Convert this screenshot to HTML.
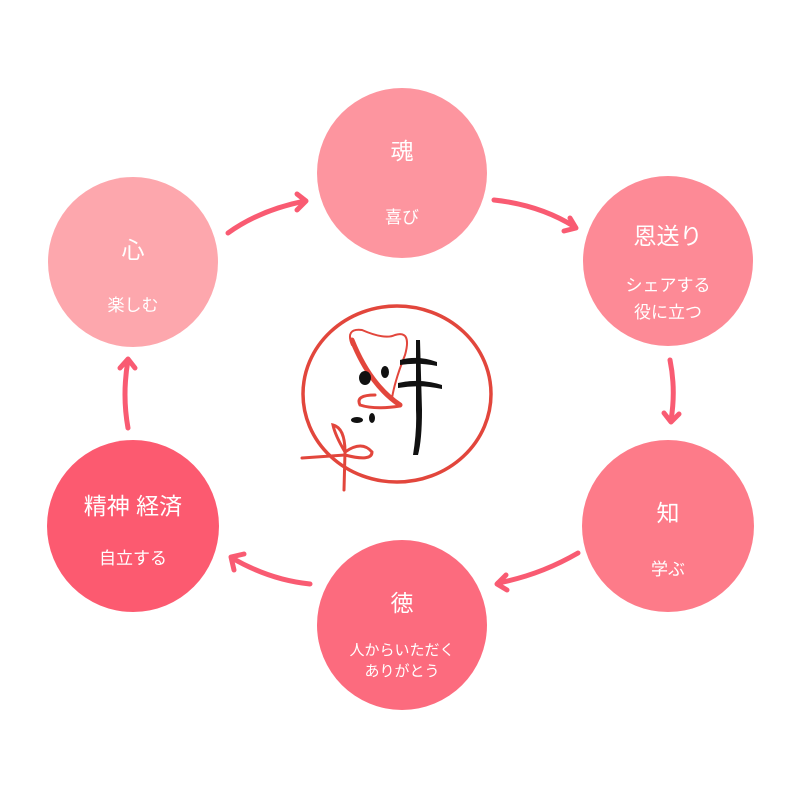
<!DOCTYPE html>
<html><head><meta charset="utf-8"><style>
body{margin:0;background:#fff;}
svg text{font-family:"Liberation Sans","Noto Sans CJK JP",sans-serif;fill:#fff;text-anchor:middle;}
</style></head><body>
<svg width="800" height="800" viewBox="0 0 800 800" xmlns="http://www.w3.org/2000/svg">
<rect width="800" height="800" fill="#fff"/>
<circle cx="133" cy="262" r="85" fill="#fda7ad"/>
<circle cx="402" cy="173" r="85" fill="#fd959f"/>
<circle cx="668" cy="261" r="85" fill="#fd8a96"/>
<circle cx="668" cy="526" r="86" fill="#fd7b89"/>
<circle cx="402" cy="625" r="85" fill="#fc6b7e"/>
<circle cx="133" cy="526" r="86" fill="#fc5a70"/>
<g font-size="23">
<text x="133" y="258">心</text>
<text x="402" y="159">魂</text>
<text x="668" y="244">恩送り</text>
<text x="668" y="521">知</text>
<text x="402" y="611">徳</text>
<text x="133" y="514">精神 経済</text>
</g>
<g font-size="17">
<text x="133" y="311">楽しむ</text>
<text x="402" y="223">喜び</text>
<text x="668" y="291">シェアする</text>
<text x="668" y="318">役に立つ</text>
<text x="668" y="575">学ぶ</text>
<text x="402" y="655" font-size="15">人からいただく</text>
<text x="402" y="676" font-size="15">ありがとう</text>
<text x="133" y="564">自立する</text>
</g>
<g fill="none" stroke="#f95b72" stroke-width="5" stroke-linecap="round" stroke-linejoin="round">
<path d="M228 233 Q260 210 305 201"/><path d="M297 194 L306 201 L297 210"/>
<path d="M494 200 Q540 205 575 227"/><path d="M570 218 L576 228 L564 231"/>
<path d="M670 360 Q676 390 671 420"/><path d="M664 413 L671 422 L679 414"/>
<path d="M578 553 Q540 575 498 583"/><path d="M506 575 L497 584 L507 590"/>
<path d="M310 584 Q270 580 232 558"/><path d="M234 570 L231 557 L244 554"/>
<path d="M128 428 Q122 395 128 360"/><path d="M120 368 L128 359 L135 368"/>
</g>
<g fill="none" stroke="#e2463c" stroke-width="3.5" stroke-linecap="round">
<ellipse cx="397" cy="394" rx="94" ry="88"/>
<path d="M352 345 Q345 328 362 330 Q385 340 395 335 Q412 330 405 355 Q395 380 392 398" stroke-width="2"/>
<path d="M352 340 Q370 385 400 405" stroke-width="5"/>
<path d="M375 395 Q355 395 360 405 Q375 410 400 406" stroke-width="3"/>
<path d="M302 458 L345 455 Q372 462 372 452 Q362 440 345 452 M345 452 Q335 435 333 425 Q345 428 345 452 L344 490" stroke-width="3"/>
</g>
<g fill="#111">
<ellipse cx="365" cy="378" rx="6" ry="7"/>
<ellipse cx="385" cy="372" rx="4" ry="6"/>
<ellipse cx="357" cy="420" rx="6" ry="3"/>
<path d="M400 360 Q418 355 437 362 L437 366 Q418 362 400 365 Z"/>
<path d="M398 383 Q420 378 442 385 L442 389 Q420 384 398 388 Z"/>
<path d="M416 340 L420 340 L422 410 Q422 440 418 455 L413 455 Q417 430 416 410 Z"/>
<ellipse cx="372" cy="418" rx="3" ry="5"/>
</g>
</svg>
</body></html>
